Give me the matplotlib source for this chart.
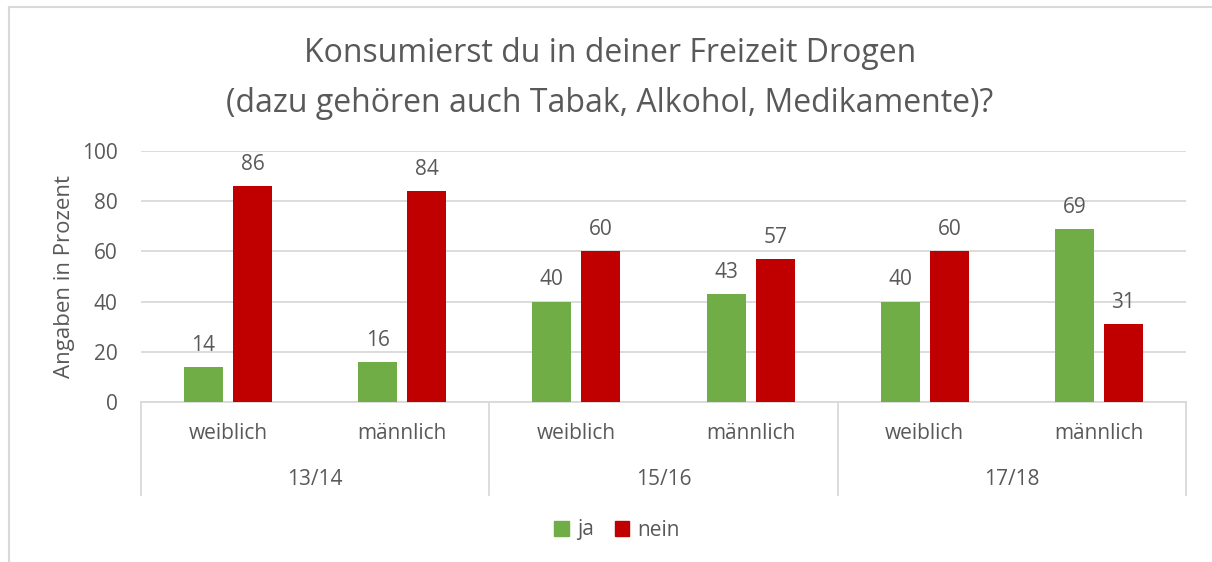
import numpy as np
import matplotlib.pyplot as plt
from matplotlib.lines import Line2D
from matplotlib.patches import Patch
from matplotlib import transforms

plt.rcParams['font.family'] = ['Open Sans', 'DejaVu Sans']

# data
years = ["13/14", "15/16", "17/18"]
genders = ["weiblich", "männlich"]
ja = [14, 16, 40, 43, 40, 69]
nein = [86, 84, 60, 57, 60, 31]

GREEN = "#70AD47"
RED = "#C00000"
TXT = "#595959"
GRID = "#D9D9D9"
FS = 15

W, H = 1212, 562
fig = plt.figure(figsize=(W / 100, H / 100), dpi=100)

# plot area in pixels
x0, x1, y_top, y_bot = 141, 1186, 151, 402
ax = fig.add_axes([x0 / W, (H - y_bot) / H, (x1 - x0) / W, (y_bot - y_top) / H])

n = len(ja)
x = np.arange(n)
bw = 0.224
off = 0.141
b1 = ax.bar(x - off, ja, bw, color=GREEN, label="ja", zorder=3)
b2 = ax.bar(x + off, nein, bw, color=RED, label="nein", zorder=3)

for bars, vals in [(b1, ja), (b2, nein)]:
    for r, v in zip(bars, vals):
        ax.annotate(str(v), (r.get_x() + r.get_width() / 2, v), xytext=(0, 8),
                    textcoords="offset points", ha="center", va="bottom",
                    fontsize=FS, color=TXT)

ax.set_xlim(-0.5, n - 0.5)
ax.set_ylim(0, 100)
ax.set_yticks(range(0, 101, 20))
ax.yaxis.grid(True, color=GRID, linewidth=1.3, zorder=0)
ax.set_axisbelow(True)
for s in ["top", "right", "left"]:
    ax.spines[s].set_visible(False)
ax.spines["bottom"].set_color(GRID)
ax.spines["bottom"].set_linewidth(1.3)
ax.tick_params(axis="y", length=0, labelsize=FS, labelcolor=TXT, pad=17)
ax.tick_params(axis="x", length=0, labelsize=FS, labelcolor=TXT, pad=15)
ax.set_xticks(x)
ax.set_xticklabels(genders * len(years))

# group labels and separators
trans = transforms.blended_transform_factory(ax.transData, ax.transAxes)
sep_bottom = -(495 - y_bot) / (y_bot - y_top)
for i, yr in enumerate(years):
    ax.text(2 * i + 0.5, -(480 - y_bot) / (y_bot - y_top), yr, transform=trans,
            ha="center", va="center", fontsize=FS, color=TXT)
for xs in [-0.5, 1.5, 3.5, 5.5]:
    ax.add_line(Line2D([xs, xs], [0, sep_bottom], transform=trans, color=GRID,
                       linewidth=1.3, clip_on=False))

ax.set_ylabel("Angaben in Prozent", fontsize=16, color=TXT, labelpad=5)

fig.text(610 / W, 1 - 53 / H, "Konsumierst du in deiner Freizeit Drogen",
         ha="center", va="center", fontsize=23, color=TXT)
fig.text(610 / W, 1 - 103 / H, "(dazu gehören auch Tabak, Alkohol, Medikamente)?",
         ha="center", va="center", fontsize=23, color=TXT)

handles = [Patch(color=GREEN, label="ja"), Patch(color=RED, label="nein")]
fig.legend(handles=handles, loc="center", bbox_to_anchor=(617 / W, 1 - 530 / H),
           ncol=2, frameon=False, fontsize=FS, labelcolor=TXT,
           handlelength=0.7, handleheight=0.7, handletextpad=0.4, columnspacing=1.0)

# outer chart frame (top and left edges visible)
fig.add_artist(Line2D([8.5 / W, 1], [1 - 6.5 / H, 1 - 6.5 / H], color=GRID, linewidth=1.5))
fig.add_artist(Line2D([8.5 / W, 8.5 / W], [0, 1 - 6.5 / H], color=GRID, linewidth=1.5))

fig.savefig("out.png", dpi=100)
